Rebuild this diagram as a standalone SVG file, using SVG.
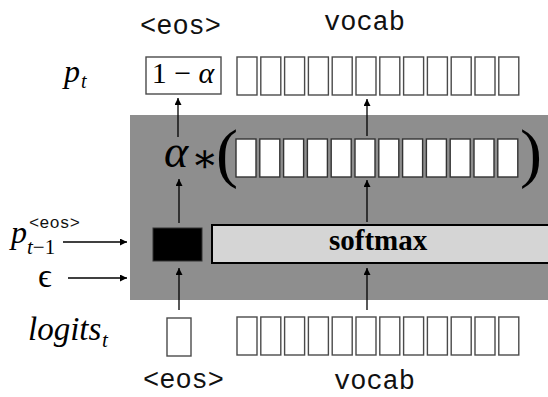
<svg xmlns="http://www.w3.org/2000/svg" width="548" height="397" viewBox="0 0 548 397">
  <style>
    .math { font-family: "Liberation Serif", "DejaVu Serif", serif; font-style: italic; fill: #000; }
    .rm { font-family: "Liberation Serif", "DejaVu Serif", serif; font-style: normal; fill: #000; }
    .mono { font-family: "Liberation Mono", "DejaVu Sans Mono", monospace; fill: #111; }
    .cell { fill: #fff; stroke: #4a4a4a; stroke-width: 1.4; }
    .cellin { fill: #fff; stroke: #333; stroke-width: 1.4; }
    .conn { stroke: #000; stroke-width: 1.3; fill: none; marker-end: url(#head); }
  </style>
  <defs>
    <marker id="head" viewBox="0 0 10 10" refX="10" refY="5" markerWidth="7" markerHeight="7" markerUnits="userSpaceOnUse" orient="auto">
      <path d="M0,0 L10,5 L0,10 z" fill="#000"/>
    </marker>
    <g id="row12">
      <rect x="0" y="0" width="20" height="38"/>
      <rect x="23.8" y="0" width="20" height="38"/>
      <rect x="47.6" y="0" width="20" height="38"/>
      <rect x="71.4" y="0" width="20" height="38"/>
      <rect x="95.2" y="0" width="20" height="38"/>
      <rect x="119" y="0" width="20" height="38"/>
      <rect x="142.8" y="0" width="20" height="38"/>
      <rect x="166.6" y="0" width="20" height="38"/>
      <rect x="190.4" y="0" width="20" height="38"/>
      <rect x="214.2" y="0" width="20" height="38"/>
      <rect x="238" y="0" width="20" height="38"/>
      <rect x="261.8" y="0" width="20" height="38"/>
    </g>
  </defs>

  <rect width="548" height="397" fill="#fff"/>

  <!-- shaded block holding the mixing step -->
  <g id="mixer">
    <rect x="130" y="115" width="418" height="185" fill="#8e8e8e"/>
  </g>

  <!-- column labels -->
  <g id="labels">
    <text class="mono" x="140" y="34" font-size="27">&lt;eos&gt;</text>
    <text class="mono" x="324" y="30" font-size="27">vocab</text>
    <text class="mono" x="143" y="388" font-size="27">&lt;eos&gt;</text>
    <text class="mono" x="334" y="389" font-size="27">vocab</text>
  </g>

  <!-- output distribution p_t -->
  <g id="pt">
    <text class="math" x="64" y="82" font-size="32">p</text>
    <text class="math" x="81" y="88" font-size="20">t</text>
    <rect class="cell" x="146" y="57" width="75" height="37"/>
    <text class="rm" x="183" y="83" font-size="30" text-anchor="middle">1 − <tspan class="math">α</tspan></text>
    <use href="#row12" class="cell" x="237" y="57"/>
  </g>

  <!-- alpha * ( softmax output ) -->
  <g id="scaled">
    <text class="math" x="164" y="167" font-size="46">α</text>
    <text class="rm" x="191" y="172" font-size="40">∗</text>
    <text class="rm" x="216" y="175" font-size="66">(</text>
    <use href="#row12" class="cellin" x="236" y="139"/>
    <text class="rm" x="520" y="175" font-size="66">)</text>
  </g>

  <!-- alpha gate -->
  <g id="gate">
    <rect x="153" y="228" width="49" height="33" fill="#000" stroke="#333" stroke-width="1"/>
  </g>

  <!-- softmax bar -->
  <g id="softmax">
    <rect x="212" y="225" width="340" height="38" fill="#d5d5d5" stroke="#000" stroke-width="2"/>
    <text class="rm" x="329" y="250" font-size="29" font-weight="bold">softmax</text>
  </g>

  <!-- inputs on the left -->
  <g id="prev">
    <text class="math" x="11" y="243" font-size="32">p</text>
    <text class="math" x="27" y="254" font-size="21">t<tspan class="rm">−1</tspan></text>
    <text class="mono" x="29" y="228" font-size="17">&lt;eos&gt;</text>
  </g>
  <g id="epsilon">
    <text class="rm" x="38" y="287" font-size="34">ϵ</text>
  </g>

  <!-- logits -->
  <g id="logits">
    <text class="math" x="28" y="340" font-size="33">logits</text>
    <text class="math" x="102" y="347" font-size="21">t</text>
    <rect class="cell" x="167" y="318" width="24" height="38"/>
    <use href="#row12" class="cell" x="237" y="317"/>
  </g>

  <!-- connectors -->
  <g id="connectors">
    <line class="conn" x1="179" y1="310" x2="179" y2="268"/>
    <line class="conn" x1="179" y1="223" x2="179" y2="179"/>
    <line class="conn" x1="178" y1="137" x2="178" y2="98"/>
    <line class="conn" x1="367" y1="310" x2="367" y2="268"/>
    <line class="conn" x1="367" y1="222" x2="367" y2="180"/>
    <line class="conn" x1="367" y1="136" x2="367" y2="99"/>
    <line class="conn" x1="63" y1="242" x2="127" y2="242"/>
    <line class="conn" x1="68" y1="278" x2="127" y2="278"/>
  </g>
</svg>
